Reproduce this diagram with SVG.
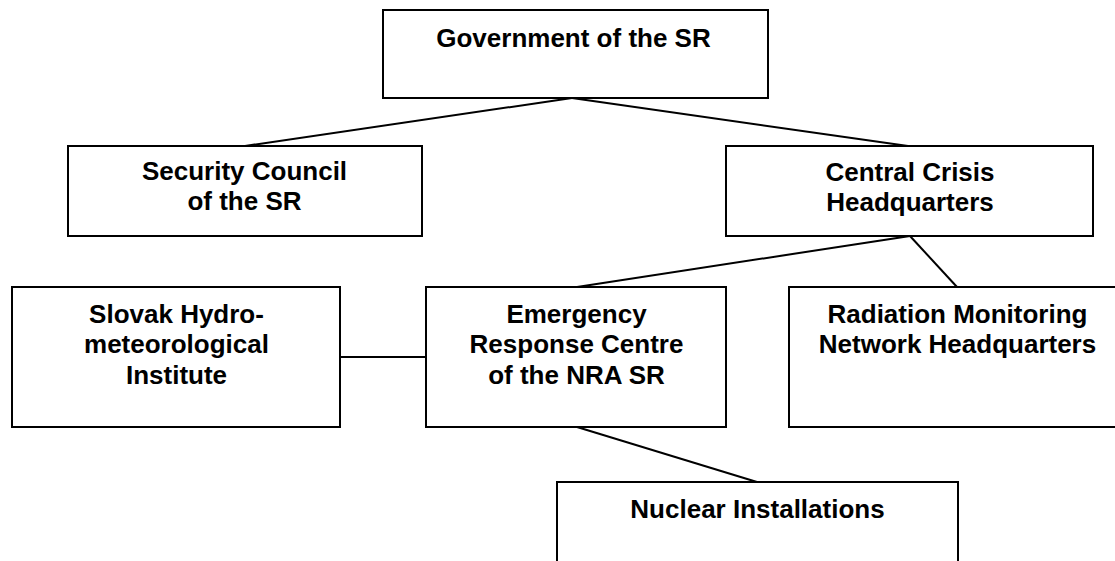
<svg xmlns="http://www.w3.org/2000/svg" width="1115" height="561" viewBox="0 0 1115 561">
<style>
.box{fill:#fff;stroke:#000;stroke-width:2}
.lbl{font-family:"Liberation Sans",Arial,sans-serif;font-weight:bold;font-size:26px;fill:#000;text-anchor:middle}
.con{stroke:#000;stroke-width:2;fill:none}
</style>
<rect width="1115" height="561" fill="#fff"/>
<g id="connectors">
<line class="con" x1="572" y1="98" x2="245" y2="146"/>
<line class="con" x1="572" y1="98" x2="908" y2="146"/>
<line class="con" x1="910" y1="236" x2="577" y2="287"/>
<line class="con" x1="910" y1="236" x2="957" y2="287"/>
<line class="con" x1="340" y1="357" x2="426" y2="357"/>
<line class="con" x1="577" y1="427" x2="757" y2="482"/>
</g>
<g id="government">
<rect class="box" x="383" y="10" width="385" height="88"/>
<text class="lbl" x="573.5" y="47">Government of the SR</text>
</g>
<g id="security-council">
<rect class="box" x="68" y="146" width="354" height="90"/>
<text class="lbl" x="244.5" y="180">Security Council</text>
<text class="lbl" x="244.5" y="210">of the SR</text>
</g>
<g id="central-crisis">
<rect class="box" x="726" y="146" width="367" height="90"/>
<text class="lbl" x="910" y="180.5">Central Crisis</text>
<text class="lbl" x="910" y="210.5">Headquarters</text>
</g>
<g id="slovak-hydro">
<rect class="box" x="12" y="287" width="328" height="140"/>
<text class="lbl" x="176.5" y="323">Slovak Hydro-</text>
<text class="lbl" x="176.5" y="353">meteorological</text>
<text class="lbl" x="176.5" y="383.5">Institute</text>
</g>
<g id="emergency">
<rect class="box" x="426" y="287" width="300" height="140"/>
<text class="lbl" x="576.5" y="323">Emergency</text>
<text class="lbl" x="576.5" y="353">Response Centre</text>
<text class="lbl" x="576.5" y="383.5">of the NRA SR</text>
</g>
<g id="radiation">
<rect class="box" x="789" y="287" width="337" height="140"/>
<text class="lbl" x="957.5" y="322.5">Radiation Monitoring</text>
<text class="lbl" x="957.5" y="353">Network Headquarters</text>
</g>
<g id="nuclear">
<rect class="box" x="557" y="482" width="401" height="100"/>
<text class="lbl" x="757.5" y="518">Nuclear Installations</text>
</g>
</svg>
